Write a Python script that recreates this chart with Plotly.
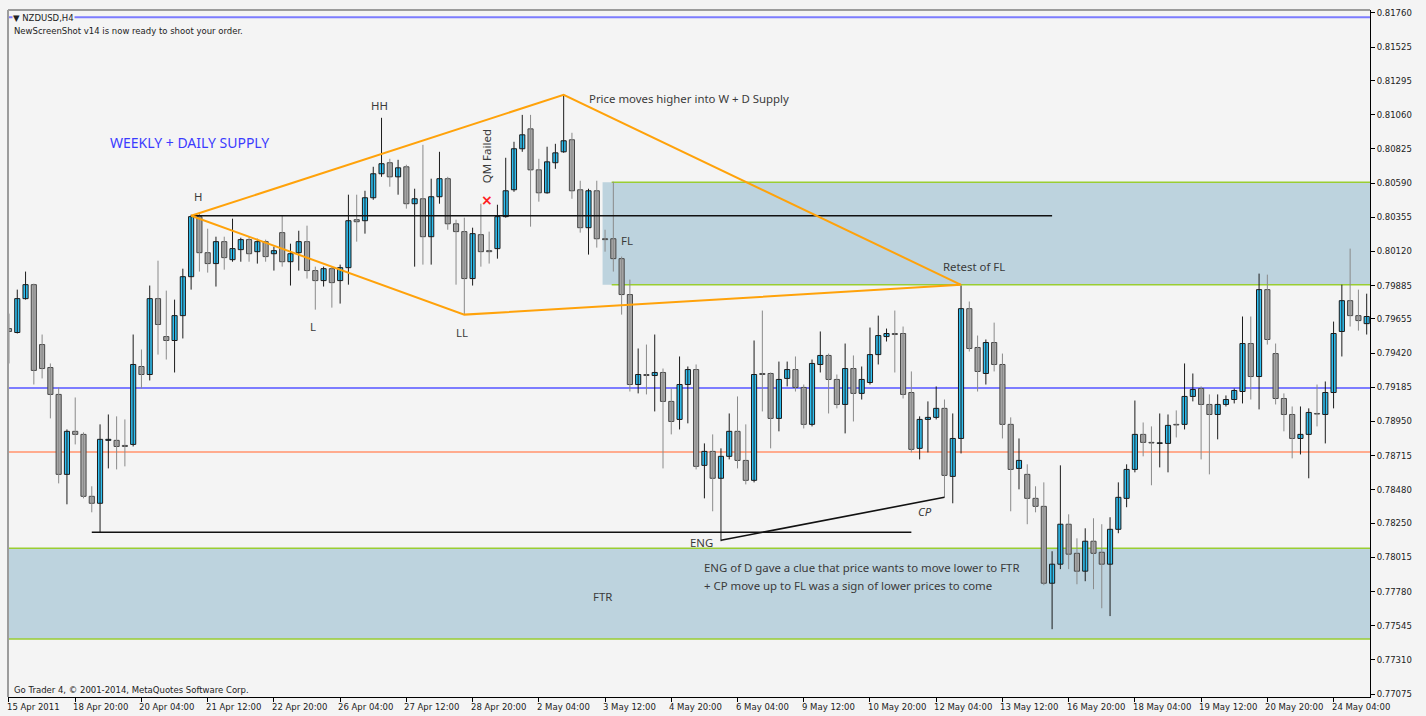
import plotly.graph_objects as go

# ---------------- data ----------------
tick_labels = ["15 Apr 2011", "18 Apr 20:00", "20 Apr 04:00", "21 Apr 12:00", "22 Apr 20:00",
               "26 Apr 04:00", "27 Apr 12:00", "28 Apr 20:00", "2 May 04:00", "3 May 12:00",
               "4 May 20:00", "6 May 04:00", "9 May 12:00", "10 May 20:00", "12 May 04:00",
               "13 May 12:00", "16 May 20:00", "18 May 04:00", "19 May 12:00", "20 May 20:00",
               "24 May 04:00"]
tick_bars = list(range(0, 161, 8))

y_ticks = [0.81760, 0.81525, 0.81295, 0.81060, 0.80825, 0.80590, 0.80355, 0.80120, 0.79885,
           0.79655, 0.79420, 0.79185, 0.78950, 0.78715, 0.78480, 0.78250, 0.78015, 0.77780,
           0.77545, 0.77310, 0.77075]

opens = [
    0.79589, 0.79562, 0.79795, 0.79891, 0.79479, 0.79321, 0.79136, 0.78586, 0.78882, 0.78861,
    0.78435, 0.78387, 0.78820, 0.78820, 0.78785, 0.78792, 0.79328, 0.79273, 0.79795, 0.79534,
    0.79507, 0.79678, 0.79946, 0.80359, 0.80111, 0.80036, 0.80187, 0.80063, 0.80132, 0.80201,
    0.80118, 0.80187, 0.80104, 0.80249, 0.80049, 0.80111, 0.80187, 0.79988, 0.79919, 0.80001,
    0.79919, 0.80008, 0.80338, 0.80331, 0.80489, 0.80654, 0.80730, 0.80633, 0.80702, 0.80448,
    0.80482, 0.80221, 0.80496, 0.80620, 0.80310, 0.80256, 0.79933, 0.80235, 0.80125, 0.80139,
    0.80359, 0.80544, 0.80826, 0.80963, 0.80681, 0.80523, 0.80730, 0.80805, 0.80888, 0.80544,
    0.80283, 0.80537, 0.80207, 0.80207, 0.80070, 0.79823, 0.79204, 0.79273, 0.79266, 0.79287,
    0.79088, 0.78964, 0.79204, 0.79307, 0.78648, 0.78744, 0.78559, 0.78710, 0.78882, 0.78682,
    0.78545, 0.79280, 0.79280, 0.78971, 0.79246, 0.79307, 0.79184, 0.78930, 0.79342, 0.79404,
    0.79239, 0.79067, 0.79314, 0.79143, 0.79218, 0.79410, 0.79534, 0.79555, 0.79555, 0.79149,
    0.78765, 0.78964, 0.78978, 0.79040, 0.78572, 0.78833, 0.79726, 0.79459, 0.79280, 0.79493,
    0.79342, 0.78930, 0.78627, 0.78586, 0.78421, 0.78366, 0.77837, 0.77968, 0.78243, 0.78043,
    0.77920, 0.78126, 0.78050, 0.77968, 0.78208, 0.78421, 0.78620, 0.78861, 0.78806, 0.78799,
    0.78799, 0.78930, 0.78930, 0.79122, 0.79177, 0.79067, 0.78998, 0.79067, 0.79101, 0.79156,
    0.79486, 0.79259, 0.79857, 0.79417, 0.79108, 0.78998, 0.78833, 0.78861, 0.79005, 0.78998,
    0.79149, 0.79569, 0.79781, 0.79678, 0.79623]

highs = [
    0.79692, 0.79857, 0.79981, 0.79898, 0.79548, 0.79349, 0.79184, 0.78895, 0.79115, 0.78875,
    0.78504, 0.78930, 0.78998, 0.78985, 0.78964, 0.79548, 0.79445, 0.79885, 0.80056, 0.79850,
    0.79788, 0.80001, 0.80372, 0.80379, 0.80276, 0.80221, 0.80221, 0.80345, 0.80214, 0.80221,
    0.80207, 0.80201, 0.80152, 0.80365, 0.80173, 0.80262, 0.80297, 0.80015, 0.80015, 0.80015,
    0.80029, 0.80510, 0.80510, 0.80537, 0.80702, 0.81039, 0.80757, 0.80750, 0.80716, 0.80551,
    0.80853, 0.80620, 0.80805, 0.80633, 0.80338, 0.80352, 0.80283, 0.80448, 0.80256, 0.80441,
    0.80764, 0.80874, 0.81059, 0.81059, 0.80757, 0.80840, 0.80860, 0.81197, 0.80936, 0.80606,
    0.80551, 0.80606, 0.80269, 0.80599, 0.80084, 0.79926, 0.79452, 0.79479, 0.79548, 0.79314,
    0.79177, 0.79397, 0.79328, 0.79342, 0.78799, 0.78861, 0.78765, 0.79005, 0.79122, 0.78930,
    0.79507, 0.79713, 0.79287, 0.79362, 0.79362, 0.79397, 0.79204, 0.79376, 0.79569, 0.79417,
    0.79273, 0.79486, 0.79404, 0.79328, 0.79596, 0.79678, 0.79589, 0.79713, 0.79603, 0.79294,
    0.78985, 0.79088, 0.79191, 0.79101, 0.79005, 0.79885, 0.79775, 0.79541, 0.79514, 0.79630,
    0.79417, 0.78978, 0.78833, 0.78655, 0.78504, 0.78531, 0.78057, 0.78648, 0.78311, 0.78146,
    0.78215, 0.78284, 0.78243, 0.78291, 0.78531, 0.78655, 0.79094, 0.78943, 0.78916, 0.79005,
    0.78998, 0.79026, 0.79349, 0.79280, 0.79191, 0.79136, 0.79136, 0.79129, 0.79177, 0.79672,
    0.79672, 0.79967, 0.79960, 0.79486, 0.79143, 0.79053, 0.79053, 0.79040, 0.79204, 0.79225,
    0.79637, 0.79891, 0.80139, 0.79857, 0.79829]

lows = [
    0.79349, 0.79555, 0.79788, 0.79204, 0.79246, 0.78971, 0.78524, 0.78380, 0.78792, 0.78421,
    0.78325, 0.78188, 0.78627, 0.78620, 0.78641, 0.78778, 0.79177, 0.79232, 0.79410, 0.79376,
    0.79287, 0.79521, 0.79857, 0.79981, 0.79974, 0.79878, 0.79994, 0.80049, 0.80049, 0.80049,
    0.80036, 0.80049, 0.79988, 0.80015, 0.79885, 0.79988, 0.79933, 0.79719, 0.79878, 0.79733,
    0.79761, 0.79891, 0.80187, 0.80242, 0.80475, 0.80633, 0.80565, 0.80510, 0.80414, 0.80015,
    0.80029, 0.80029, 0.80448, 0.80269, 0.79891, 0.79685, 0.79885, 0.80015, 0.80036, 0.80070,
    0.80352, 0.80530, 0.80805, 0.80290, 0.80462, 0.80517, 0.80688, 0.80798, 0.80482, 0.80249,
    0.80098, 0.80146, 0.80118, 0.79981, 0.79685, 0.79156, 0.79143, 0.79136, 0.79019, 0.78627,
    0.78861, 0.78895, 0.78937, 0.78620, 0.78421, 0.78332, 0.78126, 0.78689, 0.78627, 0.78517,
    0.78531, 0.79019, 0.78765, 0.78882, 0.79191, 0.79156, 0.78902, 0.78916, 0.79287, 0.79005,
    0.79040, 0.78868, 0.78950, 0.79101, 0.79204, 0.79342, 0.79500, 0.79287, 0.79108, 0.78737,
    0.78689, 0.78737, 0.78964, 0.78428, 0.78387, 0.78730, 0.79431, 0.79156, 0.79204, 0.79294,
    0.78833, 0.78332, 0.78483, 0.78243, 0.78325, 0.77824, 0.77521, 0.77934, 0.77934, 0.77830,
    0.77851, 0.77796, 0.77665, 0.77611, 0.78181, 0.78360, 0.78600, 0.78710, 0.78511, 0.78634,
    0.78600, 0.78840, 0.78895, 0.79088, 0.78689, 0.78586, 0.78827, 0.79053, 0.79074, 0.79074,
    0.79101, 0.79033, 0.79479, 0.79067, 0.78882, 0.78696, 0.78723, 0.78559, 0.78916, 0.78799,
    0.79040, 0.79397, 0.79603, 0.79575, 0.79548]

closes = [
    0.79569, 0.79795, 0.79891, 0.79301, 0.79314, 0.79136, 0.78586, 0.78882, 0.78861, 0.78435,
    0.78387, 0.78827, 0.78827, 0.78778, 0.78778, 0.79342, 0.79273, 0.79795, 0.79617, 0.79507,
    0.79678, 0.79946, 0.80359, 0.80111, 0.80036, 0.80187, 0.80077, 0.80139, 0.80201, 0.80104,
    0.80187, 0.80084, 0.80125, 0.80049, 0.80104, 0.80187, 0.79988, 0.79919, 0.80001, 0.79905,
    0.80008, 0.80331, 0.80324, 0.80489, 0.80654, 0.80723, 0.80633, 0.80695, 0.80448, 0.80482,
    0.80221, 0.80496, 0.80620, 0.80310, 0.80256, 0.79933, 0.80242, 0.80118, 0.80118, 0.80359,
    0.80537, 0.80826, 0.80922, 0.80681, 0.80523, 0.80736, 0.80798, 0.80881, 0.80537, 0.80283,
    0.80537, 0.80207, 0.80201, 0.80070, 0.79823, 0.79204, 0.79273, 0.79266, 0.79287, 0.79088,
    0.78950, 0.79204, 0.79307, 0.78641, 0.78744, 0.78559, 0.78710, 0.78882, 0.78682, 0.78545,
    0.79273, 0.79273, 0.78971, 0.79239, 0.79307, 0.79184, 0.78930, 0.79349, 0.79404, 0.79239,
    0.79067, 0.79314, 0.79143, 0.79239, 0.79410, 0.79541, 0.79555, 0.79548, 0.79136, 0.78758,
    0.78964, 0.78978, 0.79040, 0.78579, 0.78833, 0.79726, 0.79452, 0.79294, 0.79493, 0.79342,
    0.78930, 0.78620, 0.78682, 0.78421, 0.78366, 0.77837, 0.77968, 0.78243, 0.78037, 0.77920,
    0.78126, 0.78043, 0.77968, 0.78208, 0.78428, 0.78620, 0.78861, 0.78806, 0.78802, 0.78803,
    0.78923, 0.78926, 0.79122, 0.79170, 0.79067, 0.78998, 0.79067, 0.79101, 0.79163, 0.79486,
    0.79259, 0.79857, 0.79514, 0.79108, 0.78998, 0.78833, 0.78861, 0.79012, 0.79001, 0.79149,
    0.79555, 0.79781, 0.79678, 0.79644, 0.79672]

# horizontal levels and zones (prices)
blue_levels = [0.81730, 0.79180]
salmon_level = 0.78740
supply_zone = [0.79890, 0.80595]
ftr_zone = [0.77454, 0.78077]

# drawn pattern (bar index, price)
pattern_bars = [22, 67, 115, 55, 22]
pattern_prices = [0.80365, 0.81197, 0.79890, 0.79685, 0.80365]
neck_bars = [22, 126]
neck_price = 0.80365
base_bars = [10, 109]
base_price = 0.78188
cp_bars = [86, 113]
cp_prices = [0.78133, 0.78428]

# ---------------- figure ----------------
n = len(opens)
idx = list(range(n))
bull = [i for i in idx if closes[i] >= opens[i]]
bear = [i for i in idx if closes[i] < opens[i]]


def wicks(ids):
    xs, ys = [], []
    for i in ids:
        xs += [i, i, None]
        ys += [lows[i], highs[i], None]
    return xs, ys


fig = go.Figure()

bx, by = wicks(bear)
fig.add_trace(go.Scatter(x=bx, y=by, mode="lines", line=dict(color="#8a8a8a", width=1),
                         hoverinfo="skip"))
ux, uy = wicks(bull)
fig.add_trace(go.Scatter(x=ux, y=uy, mode="lines", line=dict(color="#1c1c1c", width=1),
                         hoverinfo="skip"))

fig.add_trace(go.Bar(x=bear, base=[min(opens[i], closes[i]) for i in bear],
                     y=[abs(closes[i] - opens[i]) for i in bear], width=0.62,
                     marker=dict(color="#a6a6a6", line=dict(color="#474747", width=1)),
                     hoverinfo="skip"))
fig.add_trace(go.Bar(x=bull, base=[min(opens[i], closes[i]) for i in bull],
                     y=[abs(closes[i] - opens[i]) for i in bull], width=0.62,
                     marker=dict(color="#2fc0f2", line=dict(color="#1a1a1a", width=1)),
                     hoverinfo="skip"))

# black lines
fig.add_trace(go.Scatter(x=neck_bars, y=[neck_price, neck_price], mode="lines",
                         line=dict(color="#111111", width=1.6), hoverinfo="skip"))
fig.add_trace(go.Scatter(x=base_bars, y=[base_price, base_price], mode="lines",
                         line=dict(color="#111111", width=1.6), hoverinfo="skip"))
fig.add_trace(go.Scatter(x=cp_bars, y=cp_prices, mode="lines",
                         line=dict(color="#111111", width=1.6), hoverinfo="skip"))
# orange pattern
fig.add_trace(go.Scatter(x=pattern_bars, y=pattern_prices, mode="lines",
                         line=dict(color="#ffa20a", width=2), hoverinfo="skip"))

zone_fill = "#bdd3de"
green = "#9acd32"
shapes = [
    dict(type="rect", xref="x", yref="y", x0=71.7, x1=170, y0=supply_zone[0], y1=supply_zone[1],
         fillcolor=zone_fill, line=dict(width=0), layer="below"),
    dict(type="line", xref="x", yref="y", x0=72.8, x1=170, y0=supply_zone[0], y1=supply_zone[0],
         line=dict(color=green, width=1.5), layer="below"),
    dict(type="line", xref="x", yref="y", x0=72.8, x1=170, y0=supply_zone[1], y1=supply_zone[1],
         line=dict(color=green, width=1.5), layer="below"),
    dict(type="rect", xref="paper", yref="y", x0=0, x1=1, y0=ftr_zone[0], y1=ftr_zone[1],
         fillcolor=zone_fill, line=dict(width=0), layer="below"),
    dict(type="line", xref="paper", yref="y", x0=0, x1=1, y0=ftr_zone[0], y1=ftr_zone[0],
         line=dict(color=green, width=1.5), layer="below"),
    dict(type="line", xref="paper", yref="y", x0=0, x1=1, y0=ftr_zone[1], y1=ftr_zone[1],
         line=dict(color=green, width=1.5), layer="below"),
    dict(type="line", xref="paper", yref="y", x0=0, x1=1, y0=salmon_level, y1=salmon_level,
         line=dict(color="#ffab8e", width=2), layer="below"),
    # window frame (left / top)
    dict(type="line", xref="paper", yref="paper", x0=0, x1=0, y0=0, y1=1,
         line=dict(color="#9c9c9c", width=2)),
    dict(type="line", xref="paper", yref="paper", x0=0, x1=1, y0=1, y1=1,
         line=dict(color="#9c9c9c", width=2)),
]
for lv in blue_levels:
    shapes.append(dict(type="line", xref="paper", yref="y", x0=0, x1=1, y0=lv, y1=lv,
                       line=dict(color="#7c7cff", width=2), layer="below"))

afont = dict(family="Noto Sans", size=11.4, color="#3a3a3a")
ann = []


def note(x, y, text, anchor="center", font=None, angle=0):
    ann.append(dict(x=x, y=y, xref="x", yref="y", text=text, showarrow=False,
                    xanchor=anchor, yanchor="middle", font=font or afont, textangle=angle))


note(22.8, 0.80500, "H")
note(44.8, 0.81123, "HH")
note(36.7, 0.79603, "L")
note(54.7, 0.79561, "LL")
note(57.7, 0.80772, "QM Failed", font=dict(family="Noto Sans", size=11.5, color="#3a3a3a"), angle=-90)
note(57.7, 0.80476, "<b>×</b>", font=dict(family="DejaVu Sans", size=14, color="#ff1f1f"))
note(69.8, 0.81169, "Price moves higher into W + D Supply", anchor="left")
note(11.9, 0.80867, "WEEKLY + DAILY SUPPLY", anchor="left",
     font=dict(family="Noto Sans", size=14, color="#3b3bff"))
note(74.7, 0.80194, "FL")
note(116.6, 0.80015, "Retest of FL")
note(110.7, 0.78332, "<i>CP</i>")
note(83.7, 0.78119, "ENG")
note(83.7, 0.77947, "ENG of D gave a clue that price wants to move lower to FTR", anchor="left")
note(83.7, 0.77824, "+ CP move up to FL was a sign of lower prices to come", anchor="left")
note(71.7, 0.77748, "FTR")

tfont = dict(family="DejaVu Sans", size=8.5, color="#222222")
ann.append(dict(x=0.003, y=0.988, xref="paper", yref="paper", text="▼ NZDUSD,H4",
                showarrow=False, xanchor="left", yanchor="middle", font=tfont,
                bgcolor="#f4f4f4", borderpad=0))
ann.append(dict(x=0.003, y=0.9695, xref="paper", yref="paper",
                text="NewScreenShot v14 is now ready to shoot your order.",
                showarrow=False, xanchor="left", yanchor="middle", font=tfont))
ann.append(dict(x=0.003, y=0.0102, xref="paper", yref="paper",
                text="Go Trader 4, © 2001-2014, MetaQuotes Software Corp.",
                showarrow=False, xanchor="left", yanchor="middle", font=tfont))
for b, lab in zip(tick_bars, tick_labels):
    ann.append(dict(x=b, y=0, xref="x", yref="paper", text=lab, showarrow=False,
                    xanchor="left", yanchor="top", xshift=-4, yshift=-3, font=tfont))

fig.update_layout(
    width=1426, height=716,
    margin=dict(l=8, r=56, t=8, b=19),
    paper_bgcolor="#f4f4f4", plot_bgcolor="#f4f4f4",
    showlegend=False, barmode="overlay",
    shapes=shapes, annotations=ann,
    xaxis=dict(range=[-0.12, 164.4], showgrid=False, zeroline=False, showline=True,
               linecolor="#000000", linewidth=1, ticks="outside", ticklen=4,
               tickcolor="#000000", tickvals=tick_bars, showticklabels=False),
    yaxis=dict(side="right", range=[0.770544, 0.817806], showgrid=False, zeroline=False,
               showline=True, linecolor="#000000", linewidth=1, ticks="outside", ticklen=4,
               tickcolor="#000000", tickvals=y_ticks, ticktext=[f"{v:.5f}" for v in y_ticks],
               tickfont=tfont),
)

fig.write_html(
    "out.html",
    config={"displayModeBar": False},
    post_script="document.body.style.margin='0';document.body.style.overflow='hidden';"
                "document.body.style.background='#f4f4f4';",
)
